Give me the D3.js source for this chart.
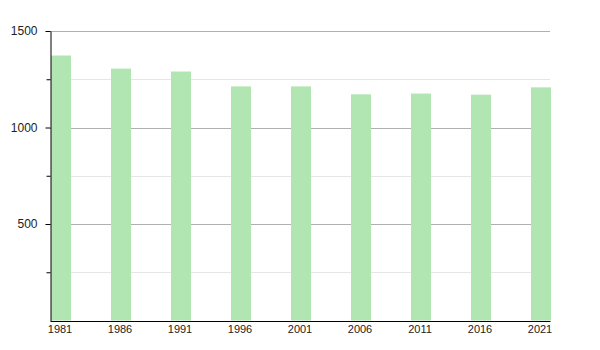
<!DOCTYPE html>
<html>
<head>
<meta charset="utf-8">
<script src="https://cdn.jsdelivr.net/npm/d3@7"></script>
<style>
body { margin: 0; background: #fff; }
svg text { font-family: "Liberation Sans", Arial, sans-serif; }
</style>
</head>
<body>
<svg></svg>
<script>
var years = ["1981", "1986", "1991", "1996", "2001", "2006", "2011", "2016", "2021"];
var population = [1373, 1305, 1290, 1213, 1213, 1172, 1176, 1170, 1208];
var majorTicks = [500, 1000, 1500];
var minorTicks = [250, 750, 1250];

var width = 600,
	height = 350;
var svg = d3.select("svg")
			.attr("width", width)
			.attr("height", height);

var plotLeft = 50, plotRight = 550, plotTop = 31, plotBottom = 320.5;

var x = d3.scaleBand()
		.domain(years)
		.range([plotLeft, plotRight])
		.paddingInner(2/3)
		.paddingOuter(0);
var y = d3.scaleLinear()
		.domain([0, 1500])
		.range([plotBottom, plotTop]);

// light minor grid lines
svg.append("g")
	.selectAll("line")
	.data(minorTicks)
	.enter()
	.append("line")
	.attr("x1", plotLeft)
	.attr("x2", plotRight)
	.attr("y1", function(d) { return Math.round(y(d)) + 0.5; })
	.attr("y2", function(d) { return Math.round(y(d)) + 0.5; })
	.attr("stroke", "#e6e6e6")

// major grid lines
svg.append("g")
	.selectAll("line")
	.data(majorTicks)
	.enter()
	.append("line")
	.attr("x1", plotLeft)
	.attr("x2", plotRight)
	.attr("y1", function(d) { return Math.round(y(d)) + 0.5; })
	.attr("y2", function(d) { return Math.round(y(d)) + 0.5; })
	.attr("stroke", "#b0b0b0")

svg.append("g")
	.selectAll("rect")
	.data(population)
	.enter()
	.append("rect")
	.attr("x", function(d, i) { return x(years[i]) + 1; })
	.attr("width", x.bandwidth())
	.attr("y", function(d) { return y(d); })
	.attr("height", function(d) { return plotBottom - y(d); })
	.attr("fill", "#b1e5b1")

// y axis with major and minor ticks
var yAxis = svg.append("g")
	.attr("transform", "translate(" + (plotLeft + 0.5) + ",0)")
	.call(d3.axisLeft(y).tickValues(majorTicks).tickFormat(d3.format("d")).tickSize(5).tickPadding(8).tickSizeOuter(0))
yAxis.select(".domain").attr("stroke", "#000")
yAxis.selectAll("text").attr("font-size", 12).attr("fill", "#222")

svg.append("g")
	.attr("transform", "translate(" + (plotLeft + 0.5) + ",0)")
	.call(d3.axisLeft(y).tickValues(minorTicks).tickSize(4).tickFormat(""))
	.select(".domain").remove()

var xAxis = svg.append("g")
	.attr("transform", "translate(0," + (plotBottom + 0.5) + ")")
	.call(d3.axisBottom(x).tickSize(0).tickPadding(4).tickSizeOuter(0))
xAxis.select(".domain").attr("stroke", "#000")
xAxis.selectAll(".tick").attr("transform", function(d) { return "translate(" + (x(d) + x.bandwidth() / 2) + ",0)"; })
xAxis.selectAll("text").attr("font-size", 11).attr("fill", "#222")
</script>
</body>
</html>
